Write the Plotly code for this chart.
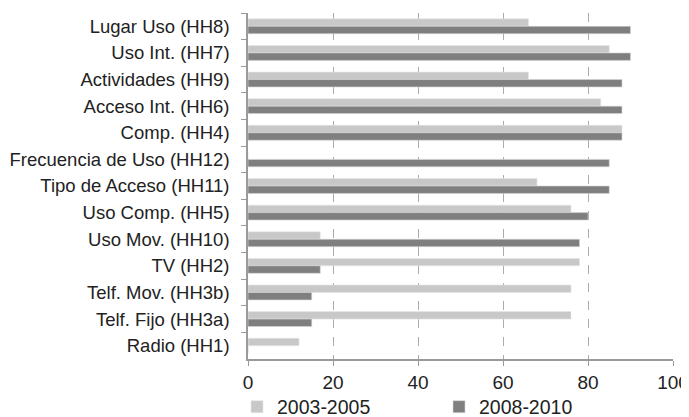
import plotly.graph_objects as go

categories = [
    "Lugar Uso (HH8)", "Uso Int. (HH7)", "Actividades (HH9)", "Acceso Int. (HH6)",
    "Comp. (HH4)", "Frecuencia de Uso (HH12)", "Tipo de Acceso (HH11)",
    "Uso Comp. (HH5)", "Uso Mov. (HH10)", "TV (HH2)", "Telf. Mov. (HH3b)",
    "Telf. Fijo (HH3a)", "Radio (HH1)",
]
series_2003_2005 = [66, 85, 66, 83, 88, 0, 68, 76, 17, 78, 76, 76, 12]
series_2008_2010 = [90, 90, 88, 88, 88, 85, 85, 80, 78, 17, 15, 15, 0]
x_ticks = [0, 20, 40, 60, 80, 100]

FONT = "Liberation Sans, Arial, sans-serif"

fig = go.Figure()
fig.add_trace(go.Bar(
    y=categories, x=series_2003_2005, orientation="h", name="2003-2005",
    marker=dict(color="#c8c8c8", line=dict(color="#e6e6e6", width=0.6)),
))
fig.add_trace(go.Bar(
    y=categories, x=series_2008_2010, orientation="h", name="2008-2010",
    marker=dict(color="#7f7f7f", line=dict(color="#d6d6d6", width=0.6)),
))

fig.update_layout(
    width=689, height=417,
    margin=dict(l=240, r=24, t=5, b=66, autoexpand=False),
    paper_bgcolor="white", plot_bgcolor="white",
    barmode="group", bargap=0.44, bargroupgap=0.0,
    font=dict(family=FONT, size=18, color="#222222"),
    showlegend=True,
    legend=dict(
        orientation="h", xref="container", yref="container",
        x=229 / 689, xanchor="left", y=1 - 399 / 417, yanchor="middle",
        font=dict(size=19.5, color="#222222"), entrywidth=157, entrywidthmode="pixels",
        itemclick=False, bgcolor="rgba(0,0,0,0)",
    ),
    xaxis=dict(
        range=[0, 100], tickvals=x_ticks, ticktext=[str(v) for v in x_ticks],
        showgrid=True, gridcolor="#ababab", griddash="dash", gridwidth=1,
        showline=True, linecolor="#9a9a9a", linewidth=1.5,
        ticks="outside", ticklen=5, tickcolor="#9a9a9a",
        zeroline=False, tickfont=dict(size=19), ticklabelstandoff=0,
        automargin=False,
    ),
    yaxis=dict(
        autorange="reversed", showgrid=False, zeroline=False,
        showline=True, linecolor="#9a9a9a", linewidth=1.5,
        ticks="outside", ticklen=5, tickcolor="#9a9a9a", tickson="boundaries",
        ticklabelstandoff=13, tickfont=dict(size=18.5), automargin=False,
    ),
)

fig.write_html("out.html")
